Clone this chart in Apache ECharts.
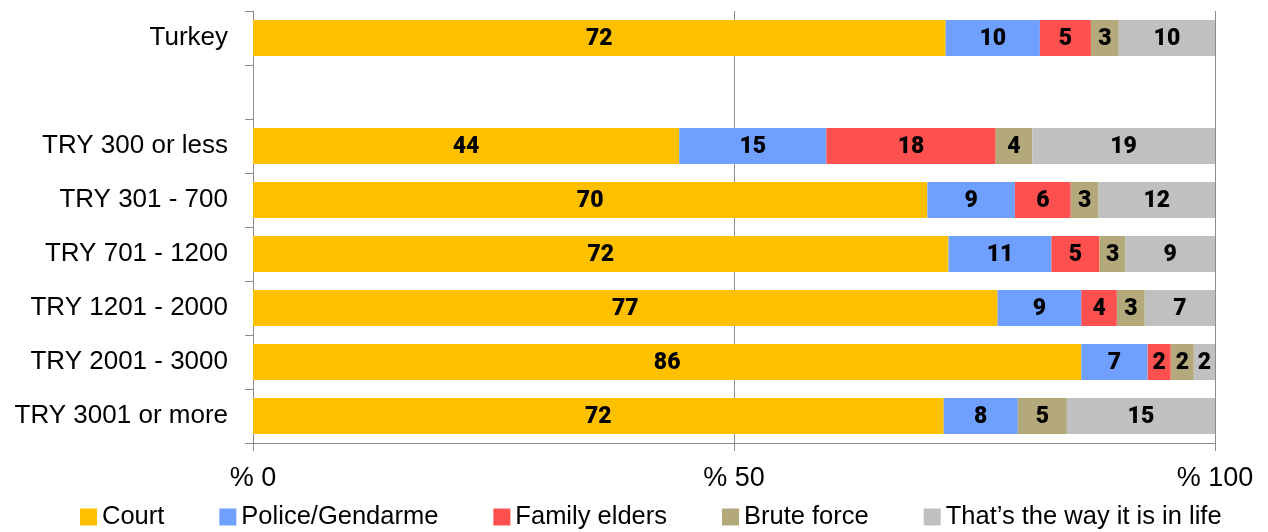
<!DOCTYPE html>
<html><head><meta charset="utf-8">
<script src="https://cdn.jsdelivr.net/npm/echarts@6/dist/echarts.min.js"></script>
<style>html,body{margin:0;padding:0;background:#fff}#c{width:1268px;height:532px}</style>
</head><body><div id="c"></div>
<script>
const categories = ['Turkey', '', 'TRY 300 or less', 'TRY 301 - 700', 'TRY 701 - 1200', 'TRY 1201 - 2000', 'TRY 2001 - 3000', 'TRY 3001 or more'];
const seriesNames = ['Court', 'Police/Gendarme', 'Family elders', 'Brute force', 'That\u2019s the way it is in life'];
const court   = [72.0, null, 44.3, 70.1, 72.3, 77.4, 86.1, 71.8];
const police  = [9.8,  null, 15.3, 9.1, 10.7, 8.7, 6.9, 7.7];
const family  = [5.3,  null, 17.6, 5.8, 5.0, 3.7, 2.4, null];
const brute   = [2.9,  null, 3.8, 2.9, 2.7, 2.9, 2.4, 5.1];
const wayLife = [10.0, null, 19.0, 12.1, 9.3, 7.3, 2.2, 15.4];
const xTicks = [0, 50, 100];
const colors = ['#FFC000', '#6F9FFF', '#FF5050', '#B3A97A', '#C0C0C0'];

const allData = [court, police, family, brute, wayLife];
const labelFont = '"Roboto", "Liberation Sans", sans-serif';
const textFont = '"Liberation Sans", "Noto Sans", sans-serif';

const chart = echarts.init(document.getElementById('c'), null, {renderer: 'canvas'});
chart.setOption({
  animation: false,
  color: colors,
  grid: {left: 253, right: 53, top: 11, bottom: 89, containLabel: false},
  legend: {
    bottom: -3, left: 75,
    icon: 'rect', itemWidth: 17, itemHeight: 17, itemGap: 55,
    textStyle: {fontSize: 25.5, color: '#000', fontFamily: textFont},
    data: seriesNames
  },
  xAxis: {
    type: 'value', min: xTicks[0], max: xTicks[xTicks.length - 1], interval: 50,
    axisLine: {show: true, lineStyle: {color: '#8c8c8c', width: 1}},
    axisTick: {show: true, length: 8, lineStyle: {color: '#8c8c8c'}},
    splitLine: {show: true, lineStyle: {color: '#8c8c8c', width: 1}},
    axisLabel: {fontSize: 27, color: '#000', fontFamily: textFont, margin: 22,
      formatter: v => '% ' + v}
  },
  yAxis: {
    type: 'category', data: categories, inverse: true,
    axisLine: {show: true, lineStyle: {color: '#8c8c8c', width: 1}},
    axisTick: {show: true, length: 8, lineStyle: {color: '#8c8c8c'}},
    axisLabel: {fontSize: 26, color: '#000', fontFamily: textFont, margin: 25, padding: [4, 0, 0, 0]}
  },
  series: seriesNames.map((name, i) => ({
    name: name, type: 'bar', stack: 'total', data: allData[i],
    barWidth: 36,
    label: {
      show: true, position: 'inside', color: '#000', offset: [0, 1],
      fontSize: 23, fontWeight: 900, fontFamily: labelFont,
      formatter: p => (p.value == null ? '' : Math.round(p.value))
    }
  }))
});
</script>
</body></html>
